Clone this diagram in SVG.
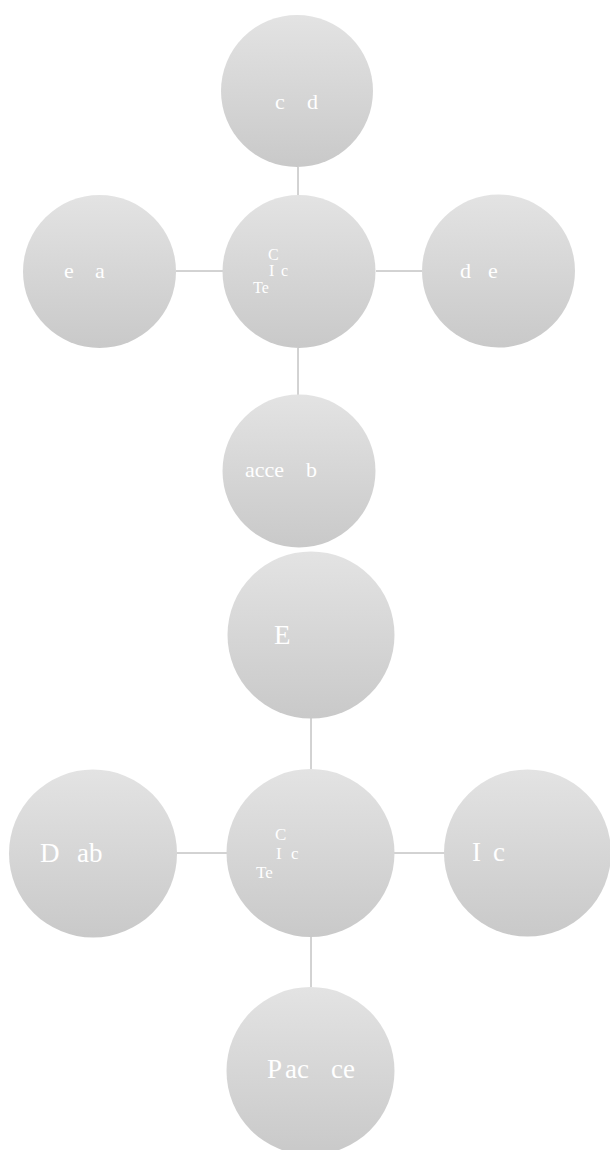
<svg xmlns="http://www.w3.org/2000/svg" width="610" height="1150" viewBox="0 0 610 1150">
  <defs>
    <linearGradient id="ball" x1="0" y1="0" x2="0" y2="1">
      <stop offset="0" stop-color="#e3e3e3"/>
      <stop offset="1" stop-color="#c9c9c9"/>
    </linearGradient>
    <style>
      .node circle { fill: url(#ball); }
      .lbl { fill: #ffffff; font-family: "Liberation Serif", "Times New Roman", serif; }
      .s { font-size: 16px; }
      .m { font-size: 22px; }
      .l { font-size: 27px; }
      .core { font-size: 17px; }
      .edges line { stroke: #a6a6a6; stroke-width: 1; }
    </style>
  </defs>
  <rect width="610" height="1150" fill="#ffffff"/>

  <!-- connectors -->
  <g id="edges" class="edges">
    <line x1="298" y1="167" x2="298" y2="195"/>
    <line x1="176" y1="271" x2="223" y2="271"/>
    <line x1="376" y1="271" x2="422" y2="271"/>
    <line x1="298" y1="348" x2="298" y2="395"/>
    <line x1="311" y1="718" x2="311" y2="769"/>
    <line x1="177" y1="853" x2="227" y2="853"/>
    <line x1="394" y1="853" x2="445" y2="853"/>
    <line x1="311" y1="937" x2="311" y2="987"/>
  </g>

  <!-- upper cluster -->
  <g id="n-top1" class="node">
    <circle cx="297" cy="91" r="76"/>
    <text class="lbl m" y="109"><tspan x="275">c</tspan><tspan x="307">d</tspan></text>
  </g>
  <g id="n-hub1" class="node">
    <circle cx="299" cy="271.5" r="76.5"/>
    <text class="lbl s"><tspan x="268" y="260">C</tspan><tspan x="269" y="276">I</tspan><tspan x="281" y="276">c</tspan><tspan x="253" y="293">Te</tspan></text>
  </g>
  <g id="n-left1" class="node">
    <circle cx="99.5" cy="271.5" r="76.5"/>
    <text class="lbl m" y="278"><tspan x="64">e</tspan><tspan x="95">a</tspan></text>
  </g>
  <g id="n-right1" class="node">
    <circle cx="498.5" cy="271" r="76.5"/>
    <text class="lbl m" y="278"><tspan x="460">d</tspan><tspan x="488">e</tspan></text>
  </g>
  <g id="n-bottom1" class="node">
    <circle cx="299" cy="471" r="76.5"/>
    <text class="lbl m" y="477"><tspan x="245">acce</tspan><tspan x="306">b</tspan></text>
  </g>

  <!-- lower cluster -->
  <g id="n-top2" class="node">
    <circle cx="311" cy="635" r="83.5"/>
    <text class="lbl l" x="274" y="644">E</text>
  </g>
  <g id="n-hub2" class="node">
    <circle cx="310.5" cy="853" r="84"/>
    <text class="lbl core"><tspan x="275" y="840">C</tspan><tspan x="276" y="859">I</tspan><tspan x="291" y="859">c</tspan><tspan x="256" y="878">Te</tspan></text>
  </g>
  <g id="n-left2" class="node">
    <circle cx="93" cy="853.5" r="84"/>
    <text class="lbl l" y="862"><tspan x="40">D</tspan><tspan x="77">ab</tspan></text>
  </g>
  <g id="n-right2" class="node">
    <circle cx="527.5" cy="853" r="83.5"/>
    <text class="lbl l" y="861"><tspan x="472">I</tspan><tspan x="493">c</tspan></text>
  </g>
  <g id="n-bottom2" class="node">
    <circle cx="310.5" cy="1071" r="84"/>
    <text class="lbl l" y="1078"><tspan x="267">P</tspan><tspan x="285">ac</tspan><tspan x="331">ce</tspan></text>
  </g>
</svg>
